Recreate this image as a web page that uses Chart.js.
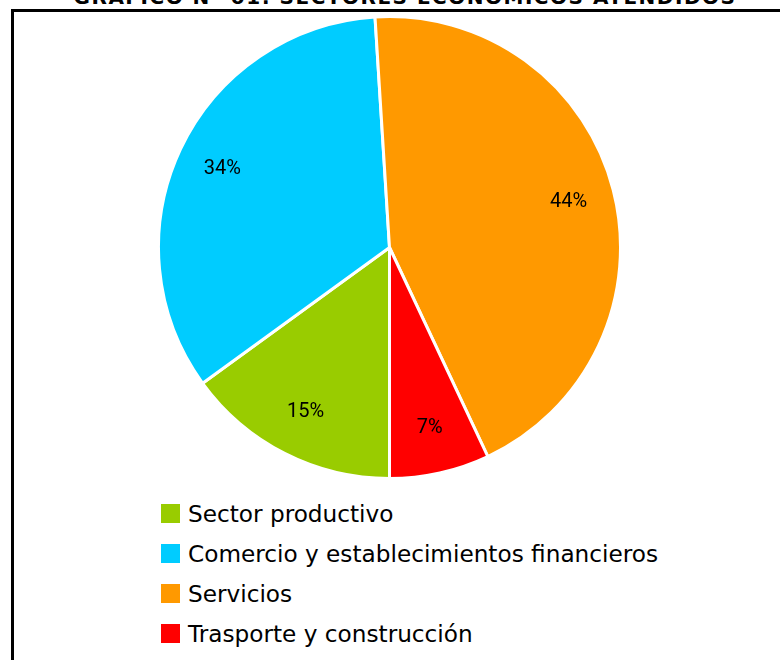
<!DOCTYPE html>
<html>
<head>
<meta charset="utf-8">
<script src="https://cdn.jsdelivr.net/npm/chart.js@4"></script>
<style>
  html, body { margin: 0; padding: 0; background: #fff; overflow: hidden; }
  body { width: 780px; height: 660px; position: relative; }
  #frame { position: absolute; left: 11px; top: 9px; width: 820px; height: 700px; border: 3px solid #000; box-sizing: border-box; }
  #title { position: absolute; left: 0; width: 810px; top: -15px; text-align: center; font: bold 20px "DejaVu Sans", sans-serif; letter-spacing: 1.5px; color: #000; white-space: nowrap; }
  #pie { position: absolute; left: 157px; top: 15px; }
  #legend { position: absolute; left: 161px; top: 493px; font: 23.2px "DejaVu Sans", sans-serif; color: #000; }
  .item { height: 40px; display: flex; align-items: center; white-space: nowrap; }
  .box { width: 19px; height: 19px; margin-right: 8px; flex: none; }
</style>
</head>
<body>
<div id="title">GRÁFICO N° 01: SECTORES ECONÓMICOS ATENDIDOS</div>
<div id="frame"></div>
<canvas id="pie" width="465" height="465"></canvas>
<div id="legend"></div>
<script>
var labels = ['Sector productivo', 'Comercio y establecimientos financieros', 'Servicios', 'Trasporte y construcción'];
var values = [15, 34, 44, 7];
var colors = ['#99cc00', '#00ccff', '#ff9900', '#ff0000'];

// percentage labels inside each slice
var pctLabels = {
  id: 'pctLabels',
  afterDatasetsDraw: function(chart) {
    var ctx = chart.ctx;
    var meta = chart.getDatasetMeta(0);
    var total = values.reduce(function(a, b) { return a + b; }, 0);
    ctx.save();
    ctx.font = '20px Roboto';
    ctx.fillStyle = '#000';
    ctx.textAlign = 'center';
    ctx.textBaseline = 'middle';
    meta.data.forEach(function(arc, i) {
      var p = arc.getProps(['x', 'y', 'startAngle', 'endAngle', 'outerRadius']);
      var mid = (p.startAngle + p.endAngle) / 2;
      var r = p.outerRadius * 0.8;
      ctx.fillText(Math.round(values[i] / total * 100) + '%', p.x + Math.cos(mid) * r, p.y + Math.sin(mid) * r);
    });
    ctx.restore();
  }
};

var ctx = document.getElementById('pie').getContext('2d');
var myChart = new Chart(ctx, {
  type: 'pie',
  data: {
    labels: labels,
    datasets: [{
      data: values,
      backgroundColor: colors,
      borderColor: '#ffffff',
      borderWidth: 3,
      hoverOffset: 0
    }]
  },
  options: {
    responsive: false,
    animation: false,
    rotation: 180,
    layout: { padding: 0 },
    plugins: {
      legend: { display: false },
      tooltip: { enabled: false }
    }
  },
  plugins: [pctLabels]
});

var legend = document.getElementById('legend');
labels.forEach(function(name, i) {
  var row = document.createElement('div');
  row.className = 'item';
  var box = document.createElement('span');
  box.className = 'box';
  box.style.background = colors[i];
  var txt = document.createElement('span');
  txt.textContent = name;
  row.appendChild(box);
  row.appendChild(txt);
  legend.appendChild(row);
});
</script>
</body>
</html>
